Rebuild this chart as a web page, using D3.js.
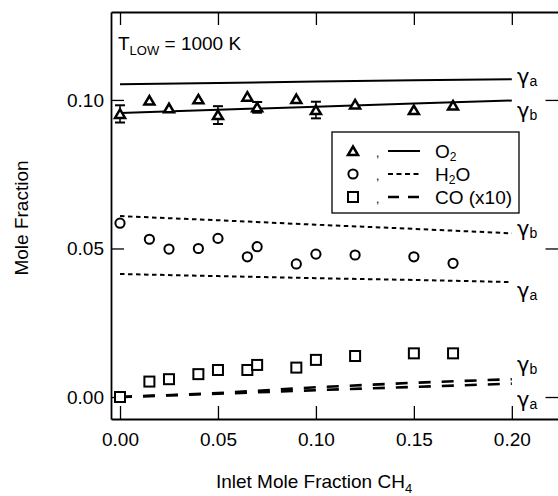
<!DOCTYPE html>
<html>
<head>
<meta charset="utf-8">
<script src="https://cdn.jsdelivr.net/npm/d3@7"></script>
<style>
  body { margin: 0; background: #fff; }
  svg { display: block; }
  text { font-family: "Liberation Sans", Arial, sans-serif; fill: #000; }
</style>
</head>
<body>
<svg id="chart" width="558" height="496"></svg>
<script>
// Tick values
const xTicks = [0, 0.05, 0.10, 0.15, 0.20];
const yTicks = [0, 0.05, 0.10];

// Measured outlet mole fractions vs inlet CH4
const inletCH4 = [0, 0.015, 0.025, 0.04, 0.05, 0.065, 0.07, 0.09, 0.10, 0.12, 0.15, 0.17];
const o2 = [0.0953, 0.0998, 0.0972, 0.1002, 0.0949, 0.1011, 0.0975, 0.1003, 0.0966, 0.0985, 0.0966, 0.0981];
const o2Err = [0.0029, 0, 0, 0, 0.0030, 0, 0.0018, 0, 0.0028, 0, 0, 0];
const h2o = [0.0585, 0.0531, 0.0498, 0.0500, 0.0534, 0.0472, 0.0506, 0.0448, 0.0481, 0.0478, 0.0472, 0.0450];
const co10 = [0.0000, 0.0052, 0.0060, 0.0077, 0.0091, 0.0091, 0.0108, 0.0099, 0.0125, 0.0138, 0.0147, 0.0147];

// Model curves for the two gamma cases
const modelX = [0, 0.05, 0.10, 0.15, 0.20];
const o2GammaA = [0.1053, 0.1057, 0.1062, 0.1066, 0.1070];
const o2GammaB = [0.0956, 0.0967, 0.0977, 0.0988, 0.0998];
const h2oGammaB = [0.0609, 0.0595, 0.0580, 0.0566, 0.0551];
const h2oGammaA = [0.0414, 0.0407, 0.0400, 0.0394, 0.0387];
const coGammaB = [0, 0.0013, 0.0033, 0.0048, 0.0060];
const coGammaA = [0, 0.0011, 0.0023, 0.0034, 0.0045];

// Curve-end labels: subscript and vertical position (data units)
const gammaLabels = [
  { sub: "a", y: 0.1073 },
  { sub: "b", y: 0.0958 },
  { sub: "b", y: 0.0563 },
  { sub: "a", y: 0.0355 },
  { sub: "b", y: 0.0105 },
  { sub: "a", y: -0.0012 }
];

const svg = d3.select("#chart");

const x = d3.scaleLinear().domain([-0.0046, 0.2251]).range([111, 561]);
const y = d3.scaleLinear().domain([-0.0074, 0.1296]).range([419, 12]);

// Frame axes with inward ticks
function styleAxis(g) {
  g.select(".domain").attr("stroke", "#000").attr("stroke-width", 1.8);
  g.selectAll(".tick line").attr("stroke", "#000").attr("stroke-width", 1.3);
  g.selectAll(".tick text").attr("font-size", 19).attr("fill", "#000")
    .attr("font-family", '"Liberation Sans", Arial, sans-serif');
}

svg.append("g").attr("transform", "translate(0,419)")
  .call(d3.axisBottom(x).tickValues(xTicks).tickSize(-13).tickSizeOuter(0)
    .tickPadding(14).tickFormat(d3.format(".2f")))
  .call(styleAxis);

svg.append("g").attr("transform", "translate(0,12)")
  .call(d3.axisTop(x).tickValues(xTicks).tickSize(-13).tickSizeOuter(0).tickFormat(""))
  .call(styleAxis);

svg.append("g").attr("transform", "translate(111,0)")
  .call(d3.axisLeft(y).tickValues(yTicks).tickSize(-13).tickSizeOuter(0)
    .tickPadding(7).tickFormat(d3.format(".2f")))
  .call(styleAxis);

svg.append("g").attr("transform", "translate(558.5,0)")
  .call(d3.axisRight(y).tickValues(yTicks).tickSize(-13).tickSizeOuter(0).tickFormat(""))
  .call(styleAxis);

// Axis titles
svg.append("text")
  .attr("transform", "translate(28,218) rotate(-90)")
  .attr("text-anchor", "middle").attr("font-size", 19)
  .text("Mole Fraction");

const xTitle = svg.append("text")
  .attr("x", 314).attr("y", 488).attr("text-anchor", "middle").attr("font-size", 19);
xTitle.append("tspan").text("Inlet Mole Fraction CH");
xTitle.append("tspan").attr("font-size", 13).attr("dy", 5).text("4");

// Temperature annotation
const tLow = svg.append("text").attr("x", 118).attr("y", 50).attr("font-size", 19);
tLow.append("tspan").text("T");
tLow.append("tspan").attr("font-size", 13).attr("dy", 5).text("LOW");
tLow.append("tspan").attr("dy", -5).text(" = 1000 K");

// Model curves
const line = d3.line().x(d => x(d[0])).y(d => y(d[1]));
const curves = [
  { v: o2GammaA, dash: null, w: 2 },
  { v: o2GammaB, dash: null, w: 2 },
  { v: h2oGammaB, dash: "4.5,3.5", w: 2 },
  { v: h2oGammaA, dash: "4.5,3.5", w: 2 },
  { v: coGammaB, dash: "12,11", w: 2.6 },
  { v: coGammaA, dash: "12,11", w: 2.6 }
];
svg.append("g").selectAll("path").data(curves).join("path")
  .attr("d", c => line(modelX.map((xv, i) => [xv, c.v[i]])))
  .attr("fill", "none").attr("stroke", "#000")
  .attr("stroke-width", c => c.w)
  .attr("stroke-dasharray", c => c.dash);

// Curve labels
const gl = svg.append("g").selectAll("text").data(gammaLabels).join("text")
  .attr("x", 517).attr("y", d => y(d.y) + 6);
gl.append("tspan").attr("font-family", '"DejaVu Sans", sans-serif').attr("font-size", 21).text("γ");
gl.append("tspan").attr("font-size", 14).attr("dy", 2).attr("dx", 0).text(d => d.sub);

// Error bars on O2
const errData = inletCH4.map((xv, i) => ({ x: xv, y: o2[i], e: o2Err[i] })).filter(d => d.e > 0);
const eb = svg.append("g").attr("stroke", "#000");
eb.selectAll("line.v").data(errData).join("line").attr("class", "v")
  .attr("x1", d => x(d.x)).attr("x2", d => x(d.x))
  .attr("y1", d => y(d.y - d.e)).attr("y2", d => y(d.y + d.e)).attr("stroke-width", 1.5);
eb.selectAll("line.t").data(errData).join("line").attr("class", "t")
  .attr("x1", d => x(d.x) - 5).attr("x2", d => x(d.x) + 5)
  .attr("y1", d => y(d.y + d.e)).attr("y2", d => y(d.y + d.e)).attr("stroke-width", 2);
eb.selectAll("line.b").data(errData).join("line").attr("class", "b")
  .attr("x1", d => x(d.x) - 5).attr("x2", d => x(d.x) + 5)
  .attr("y1", d => y(d.y - d.e)).attr("y2", d => y(d.y - d.e)).attr("stroke-width", 2);

// Marker shapes
const triPath = "M0,-4.5L5,4L-5,4Z";
function drawTri(g) {
  g.attr("d", triPath).attr("fill", "#fff").attr("stroke", "#000")
    .attr("stroke-width", 2.5).attr("stroke-linejoin", "miter");
}
function drawCircle(g) {
  g.attr("r", 4.6).attr("fill", "#fff").attr("stroke", "#000").attr("stroke-width", 2);
}
function drawSquare(g) {
  g.attr("x", -5).attr("y", -5).attr("width", 10).attr("height", 10)
    .attr("fill", "#fff").attr("stroke", "#000").attr("stroke-width", 2);
}

svg.append("g").selectAll("path").data(inletCH4).join("path")
  .attr("transform", (d, i) => `translate(${x(d)},${y(o2[i])})`).call(drawTri);
svg.append("g").selectAll("circle").data(inletCH4).join("circle")
  .attr("cx", d => x(d)).attr("cy", (d, i) => y(h2o[i])).call(drawCircle);
svg.append("g").selectAll("rect").data(inletCH4).join("rect")
  .attr("transform", (d, i) => `translate(${x(d)},${y(co10[i])})`).call(drawSquare);

// Legend
const legend = svg.append("g");
legend.append("rect").attr("x", 332).attr("y", 132).attr("width", 187).attr("height", 81)
  .attr("fill", "#fff").attr("stroke", "#000").attr("stroke-width", 1.3);
const rows = [
  { cy: 151, kind: "tri", dash: null, label: ["O", "2", ""] },
  { cy: 174, kind: "circle", dash: "5,3.5", label: ["H", "2", "O"] },
  { cy: 197, kind: "square", dash: "11,9", label: ["CO (x10)", "", ""] }
];
rows.forEach(r => {
  const g = legend.append("g");
  if (r.kind === "tri") g.append("path").attr("transform", `translate(353,${r.cy})`).call(drawTri);
  if (r.kind === "circle") g.append("circle").attr("cx", 353).attr("cy", r.cy).call(drawCircle);
  if (r.kind === "square") g.append("rect").attr("transform", `translate(353,${r.cy})`).call(drawSquare);
  g.append("text").attr("x", 376).attr("y", r.cy + 6).attr("font-size", 12).text(",");
  g.append("line").attr("x1", 388).attr("x2", 420).attr("y1", r.cy).attr("y2", r.cy)
    .attr("stroke", "#000").attr("stroke-width", r.kind === "square" ? 2.4 : 2)
    .attr("stroke-dasharray", r.dash);
  const t = g.append("text").attr("x", 435).attr("y", r.cy + 7).attr("font-size", 19);
  t.append("tspan").text(r.label[0]);
  if (r.label[1]) t.append("tspan").attr("font-size", 12).attr("dy", 3).text(r.label[1]);
  if (r.label[2]) t.append("tspan").attr("dy", -3).text(r.label[2]);
});
</script>
</body>
</html>
